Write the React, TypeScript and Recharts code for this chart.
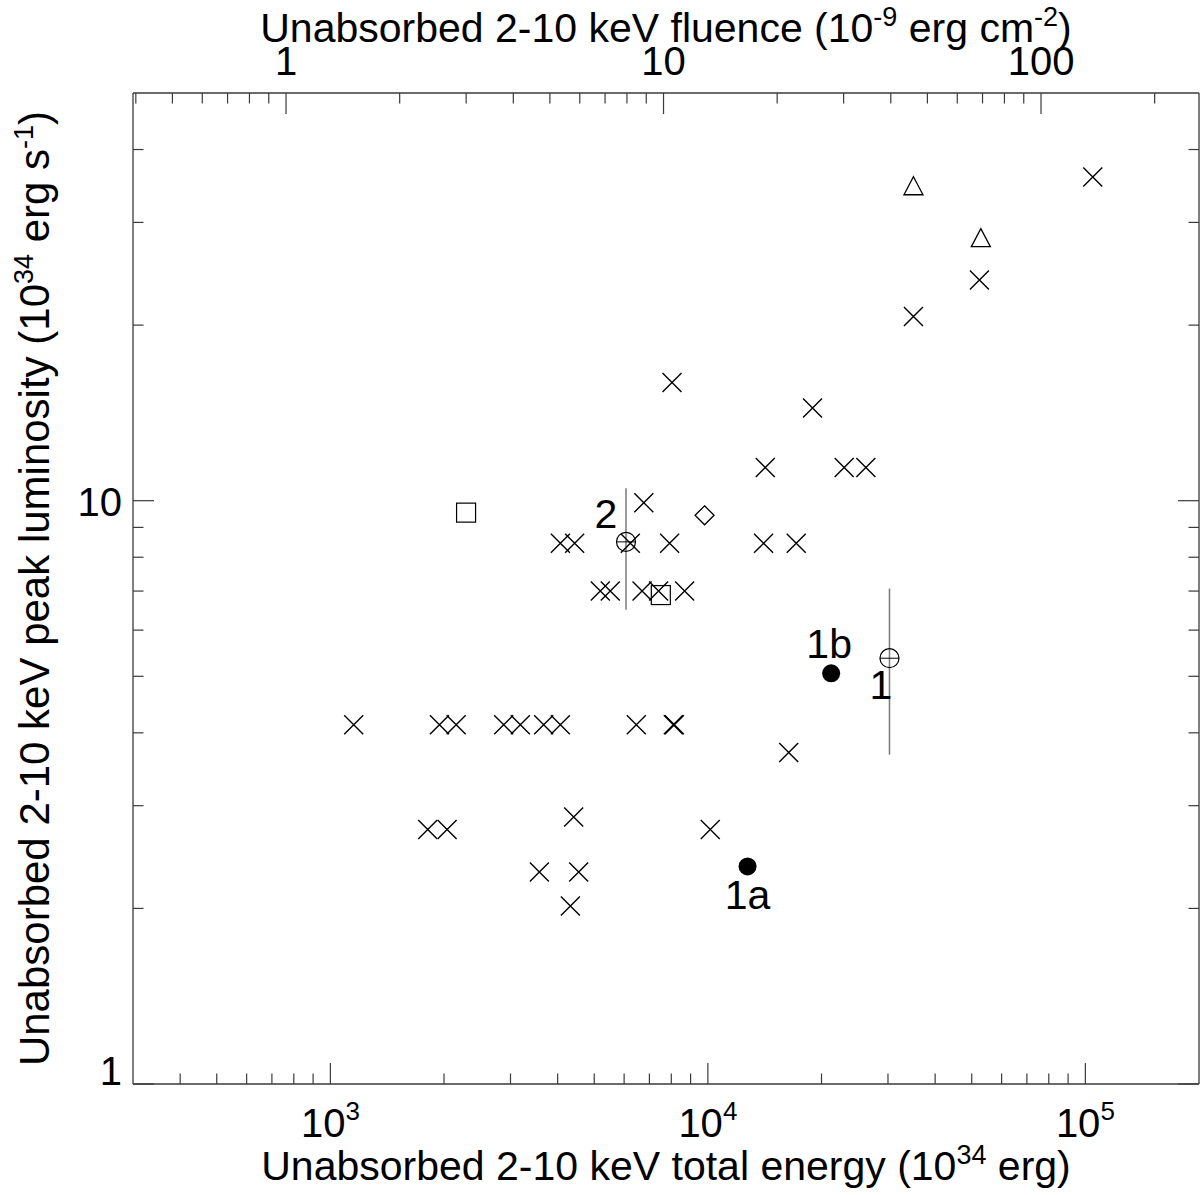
import { ScatterChart, Scatter, XAxis, YAxis, ErrorBar } from "recharts";

const FONT = '"Liberation Sans", Arial, Helvetica, sans-serif';
const INK = "#000";
const AXIS = "#3a3a3a";
const BAR = "#7a7a7a";

// unabsorbed 2-10 keV total energy (1e34 erg) vs peak luminosity (1e34 erg/s)
const crossEnergy = [
  1153, 1945, 2154, 2878, 3186, 3673, 4067, 6463, 8100, 8150,
  1811, 2038, 10148, 3578, 4547, 4411, 4323, 16374,
  4067, 4437, 6231, 7918, 14046, 17143,
  5189, 5514, 6693, 7404, 8678,
  6765, 8035, 18932, 14191, 22966, 26212, 35043, 52407, 104616,
];
const crossLum = [
  4.13, 4.13, 4.13, 4.13, 4.13, 4.13, 4.13, 4.13, 4.13, 4.13,
  2.73, 2.73, 2.73, 2.31, 2.31, 2.87, 2.02, 3.7,
  8.45, 8.45, 8.45, 8.45, 8.45, 8.45,
  7.0, 7.0, 7.0, 7.0, 7.0,
  9.92, 15.95, 14.42, 11.4, 11.4, 11.4, 20.7, 23.9, 35.9,
];
const triangleEnergy = [35043, 52856];
const triangleLum = [34.6, 28.2];
const squareEnergy = [2288, 7505];
const squareLum = [9.54, 6.89];
const diamondEnergy = [9801];
const diamondLum = [9.44];
const openEnergy = [6069, 30275];
const openLum = [8.5, 5.37];
const openErrLow = [2.0, 1.7];
const openErrHigh = [2.0, 1.7];
const openNames = ["2", "1"];
const filledEnergy = [21212, 12739];
const filledLum = [5.06, 2.36];
const filledNames = ["1b", "1a"];

// axes
const ENERGY_PER_FLUENCE = 763;
const energyDomain = [300, 200000];
const fluenceDomain = [300 / ENERGY_PER_FLUENCE, 200000 / ENERGY_PER_FLUENCE];
const lumDomain = [1, 50];
const energyTicks = [
  400, 500, 600, 700, 800, 900, 1000, 2000, 3000, 4000, 5000, 6000, 7000, 8000, 9000,
  10000, 20000, 30000, 40000, 50000, 60000, 70000, 80000, 90000, 100000,
];
const energyExp: Record<number, string> = { 1000: "3", 10000: "4", 100000: "5" };
const fluenceTicks = [
  0.4, 0.5, 0.6, 0.7, 0.8, 0.9, 1, 2, 3, 4, 5, 6, 7, 8, 9,
  10, 20, 30, 40, 50, 60, 70, 80, 90, 100, 200,
];
const fluenceLabels: Record<number, string> = { 1: "1", 10: "10", 100: "100" };
const lumTicks = [1, 2, 3, 4, 5, 6, 7, 8, 9, 10, 20, 30, 40];
const lumLabels: Record<number, string> = { 1: "1", 10: "10" };

const zip = (xs: number[], ys: number[]) => xs.map((x, i) => ({ x, y: ys[i] }));
const crosses = zip(crossEnergy, crossLum);
const triangles = zip(triangleEnergy, triangleLum);
const squares = zip(squareEnergy, squareLum);
const diamonds = zip(diamondEnergy, diamondLum);
const openCircles = openEnergy.map((x, i) => ({
  x, y: openLum[i], err: [openErrLow[i], openErrHigh[i]], name: openNames[i],
}));
const filledCircles = filledEnergy.map((x, i) => ({ x, y: filledLum[i], name: filledNames[i] }));
// same events in fluence units, only so the top axis gets a scale
const fluencePoints = zip(crossEnergy.map((e) => e / ENERGY_PER_FLUENCE), crossLum);

const labelOffset: Record<string, [number, number]> = {
  "2": [-20, -14], "1": [-8.5, 41], "1b": [-2, -15], "1a": [0, 42.5],
};

const S = 9.5;
const MAJOR = 21;
const MINOR = 10.5;
const tickFont = 40;
const titleFont = 41;

const Cross = ({ cx, cy }: any) => (
  <path d={`M${cx - S},${cy - S}L${cx + S},${cy + S}M${cx - S},${cy + S}L${cx + S},${cy - S}`}
    stroke={INK} strokeWidth={1.4} fill="none" />
);
const Triangle = ({ cx, cy }: any) => (
  <path d={`M${cx},${cy - S}L${cx + S},${cy + 8.5}L${cx - S},${cy + 8.5}Z`}
    stroke={INK} strokeWidth={1.3} fill="none" />
);
const Square = ({ cx, cy }: any) => (
  <rect x={cx - S} y={cy - S} width={2 * S} height={2 * S} stroke={INK} strokeWidth={1.2} fill="none" />
);
const Diamond = ({ cx, cy }: any) => (
  <path d={`M${cx},${cy - S}L${cx + S},${cy}L${cx},${cy + S}L${cx - S},${cy}Z`}
    stroke={INK} strokeWidth={1.3} fill="none" />
);
const Nothing = () => <g />;
const Tag = ({ cx, cy, name }: any) => {
  const [dx, dy] = labelOffset[name] || [0, 0];
  return (
    <text x={cx + dx} y={cy + dy} textAnchor="middle" fontSize={titleFont} fontFamily={FONT} fill={INK}>
      {name}
    </text>
  );
};
const OpenCircle = ({ cx, cy, payload }: any) => (
  <g>
    <circle cx={cx} cy={cy} r={S} fill="none" stroke={INK} strokeWidth={1.2} />
    <line x1={cx - S} x2={cx + S} y1={cy} y2={cy} stroke={INK} strokeWidth={1} />
    <Tag cx={cx} cy={cy} name={payload.name} />
  </g>
);
const FilledCircle = ({ cx, cy, payload }: any) => (
  <g>
    <circle cx={cx} cy={cy} r={9} fill={INK} />
    <Tag cx={cx} cy={cy} name={payload.name} />
  </g>
);

const tickLine = { stroke: AXIS, strokeWidth: 1.2 };
const isMajor = (v: number) => Math.abs(Math.log10(v) - Math.round(Math.log10(v))) < 1e-6;

const BottomTick = ({ x, y, payload }: any) => {
  const v = payload.value;
  const exp = energyExp[v];
  return (
    <g>
      <line x1={x} x2={x} y1={y} y2={y - (isMajor(v) ? MAJOR : MINOR)} {...tickLine} />
      {exp && (
        <text x={x} y={y + 53} textAnchor="middle" fontSize={tickFont} fontFamily={FONT} fill={INK}>
          10<tspan dy={-17} fontSize={26}>{exp}</tspan>
        </text>
      )}
    </g>
  );
};
const TopTick = ({ x, y, payload }: any) => {
  const v = payload.value;
  const label = fluenceLabels[v];
  return (
    <g>
      <line x1={x} x2={x} y1={y} y2={y + (isMajor(v) ? MAJOR : MINOR)} {...tickLine} />
      {label && (
        <text x={x} y={y - 18} textAnchor="middle" fontSize={tickFont} fontFamily={FONT} fill={INK}>
          {label}
        </text>
      )}
    </g>
  );
};
const LeftTick = ({ x, y, payload }: any) => {
  const v = payload.value;
  const label = lumLabels[v];
  return (
    <g>
      <line x1={x} x2={x + (isMajor(v) ? MAJOR : MINOR)} y1={y} y2={y} {...tickLine} />
      {label && (
        <text x={x - 11} y={v === 1 ? y + 1 : y + 15} textAnchor="end" fontSize={tickFont} fontFamily={FONT} fill={INK}>
          {label}
        </text>
      )}
    </g>
  );
};
const RightTick = ({ x, y, payload }: any) => {
  const v = payload.value;
  return <line x1={x} x2={x - (isMajor(v) ? MAJOR : MINOR)} y1={y} y2={y} {...tickLine} />;
};

const sup = (t: string) => [
  <tspan key="a" dy={-16} fontSize={27}>{t}</tspan>,
];

const BottomTitle = (props: any) => {
  const vb = props.viewBox;
  return (
    <text x={vb.x + vb.width / 2} y={vb.y + 96} textAnchor="middle" fontSize={titleFont} fontFamily={FONT} fill={INK}>
      Unabsorbed 2-10 keV total energy (10{sup("34")}<tspan dy={16}> erg)</tspan>
    </text>
  );
};
const TopTitle = (props: any) => {
  const vb = props.viewBox;
  return (
    <text x={vb.x + vb.width / 2} y={vb.y + vb.height - 51} textAnchor="middle" fontSize={titleFont} fontFamily={FONT} fill={INK}>
      Unabsorbed 2-10 keV fluence (10{sup("-9")}<tspan dy={16}> erg cm</tspan>
      <tspan dy={-16} fontSize={27}>-2</tspan><tspan dy={16}>)</tspan>
    </text>
  );
};
const LeftTitle = (props: any) => {
  const vb = props.viewBox;
  const cx = 49;
  const cy = vb.y + vb.height / 2;
  return (
    <text x={cx} y={cy} transform={`rotate(-90 ${cx} ${cy})`} textAnchor="middle" fontSize={42} fontFamily={FONT} fill={INK}>
      Unabsorbed 2-10 keV peak luminosity (10{sup("34")}<tspan dy={16}> erg s</tspan>
      <tspan dy={-16} fontSize={27}>-1</tspan><tspan dy={16}>)</tspan>
    </text>
  );
};

export default function App() {
  return (
    <div style={{ position: "absolute", left: 0, top: 0, width: 1200, height: 1195, background: "#fff" }}>
      <ScatterChart width={1200} height={1195} margin={{ top: 92, right: 0, bottom: 110, left: 132 }}>
        <XAxis xAxisId="e" dataKey="x" type="number" scale="log" domain={energyDomain} allowDataOverflow
          height={1} ticks={energyTicks} interval={0} tick={<BottomTick />} tickLine={false}
          tickSize={0} tickMargin={0} axisLine={{ stroke: AXIS, strokeWidth: 1.3 }} label={BottomTitle} />
        <XAxis xAxisId="f" dataKey="x" orientation="top" type="number" scale="log" domain={fluenceDomain} allowDataOverflow
          height={1} ticks={fluenceTicks} interval={0} tick={<TopTick />} tickLine={false}
          tickSize={0} tickMargin={0} axisLine={{ stroke: AXIS, strokeWidth: 1.3 }} label={TopTitle} />
        <YAxis yAxisId="l" dataKey="y" type="number" scale="log" domain={lumDomain} allowDataOverflow
          width={1} ticks={lumTicks} interval={0} tick={<LeftTick />} tickLine={false}
          tickSize={0} tickMargin={0} axisLine={{ stroke: AXIS, strokeWidth: 1.3 }} label={LeftTitle} />
        <YAxis yAxisId="r" dataKey="y" orientation="right" type="number" scale="log" domain={lumDomain} allowDataOverflow
          width={1} ticks={lumTicks} interval={0} tick={<RightTick />} tickLine={false}
          tickSize={0} tickMargin={0} axisLine={{ stroke: AXIS, strokeWidth: 1.3 }} />
        <Scatter xAxisId="f" yAxisId="r" data={fluencePoints} shape={Nothing} isAnimationActive={false} />
        <Scatter xAxisId="e" yAxisId="l" data={crosses} shape={Cross} isAnimationActive={false} />
        <Scatter xAxisId="e" yAxisId="l" data={triangles} shape={Triangle} isAnimationActive={false} />
        <Scatter xAxisId="e" yAxisId="l" data={squares} shape={Square} isAnimationActive={false} />
        <Scatter xAxisId="e" yAxisId="l" data={diamonds} shape={Diamond} isAnimationActive={false} />
        <Scatter xAxisId="e" yAxisId="l" data={openCircles} shape={OpenCircle} isAnimationActive={false}>
          <ErrorBar dataKey="err" direction="y" width={0} stroke={BAR} strokeWidth={1.5} isAnimationActive={false} />
        </Scatter>
        <Scatter xAxisId="e" yAxisId="l" data={filledCircles} shape={FilledCircle} isAnimationActive={false} />
      </ScatterChart>
    </div>
  );
}
